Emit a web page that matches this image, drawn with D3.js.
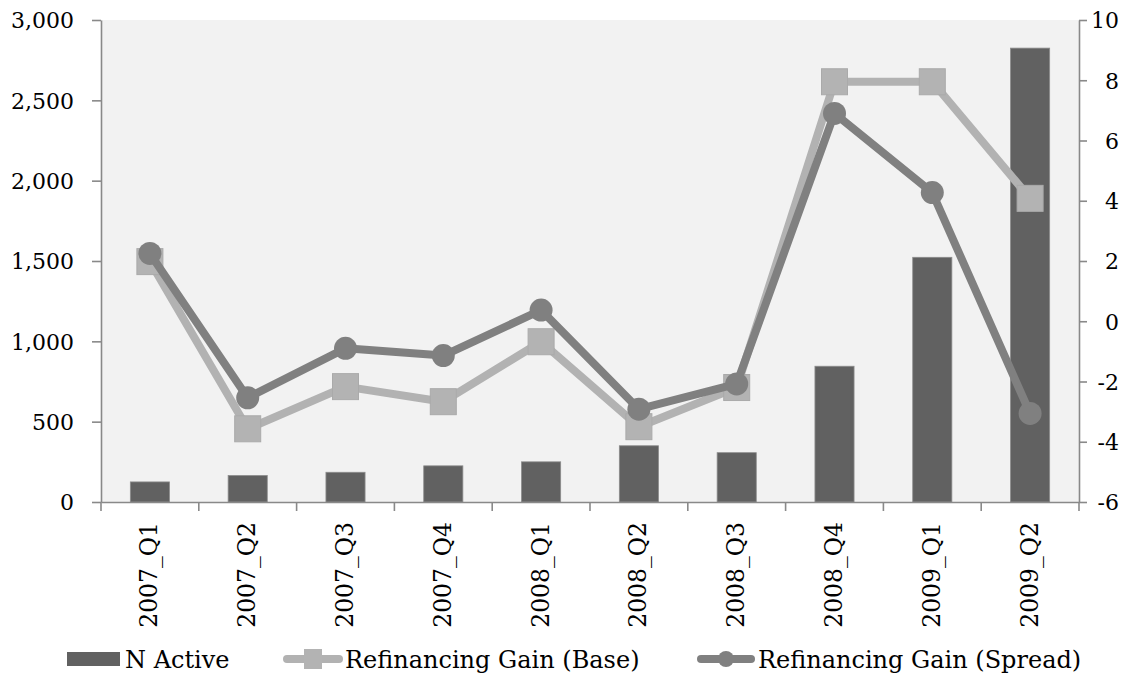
<!DOCTYPE html>
<html>
<head>
<meta charset="utf-8">
<script src="https://cdn.jsdelivr.net/npm/d3@7"></script>
<style>
  body { margin: 0; background: #fff; }
  .chart text { font-family: "DejaVu Serif", serif; font-size: 22px; fill: #000; }
  .chart .xlab text { font-size: 23.5px; }
  .chart .legend text { font-size: 24px; }
</style>
</head>
<body>
<div class="chart"></div>
<script>
// Data
const categories = ["2007_Q1", "2007_Q2", "2007_Q3", "2007_Q4", "2008_Q1",
                    "2008_Q2", "2008_Q3", "2008_Q4", "2009_Q1", "2009_Q2"];
const nActive = [125, 165, 185, 225, 250, 350, 307, 845, 1523, 2825];
const gainBase = [1.98, -3.57, -2.17, -2.67, -0.68, -3.5, -2.2, 7.95, 7.95, 4.08];
const gainSpread = [2.25, -2.54, -0.9, -1.14, 0.37, -2.92, -2.08, 6.9, 4.27, -3.06];
const leftTicks = [0, 500, 1000, 1500, 2000, 2500, 3000];
const rightTicks = [-6, -4, -2, 0, 2, 4, 6, 8, 10];

// Set up the chart
const margin = {top: 20, right: 62, bottom: 177, left: 101};
const width = 1141 - margin.left - margin.right;
const height = 679 - margin.top - margin.bottom;

const x = d3.scaleBand().domain(categories).range([0, width])
    .paddingInner(0.6).paddingOuter(0.3);
const yLeft = d3.scaleLinear().domain([0, 3000]).range([height, 0]);
const yRight = d3.scaleLinear().domain([-6, 10]).range([height, 0]);

const axisColor = "#898989";

const svg = d3.select(".chart").append("svg")
    .attr("width", 1141)
    .attr("height", 679);

const g = svg.append("g")
    .attr("transform", "translate(" + margin.left + "," + margin.top + ")");

// Plot background
g.append("rect")
    .attr("width", width)
    .attr("height", height)
    .attr("fill", "#f2f2f2");

// Bars
g.selectAll(".bar")
    .data(nActive)
    .join("rect")
    .attr("class", "bar")
    .attr("x", (d, i) => x(categories[i]))
    .attr("y", d => yLeft(d))
    .attr("width", x.bandwidth())
    .attr("height", d => height - yLeft(d))
    .attr("fill", "#616161")
    .attr("stroke", "#8c8c8c")
    .attr("stroke-width", 0.8);

// Left axis
const leftAxis = g.append("g")
    .call(d3.axisLeft(yLeft).tickValues(leftTicks).tickFormat(d3.format(",")).tickSize(9).tickSizeOuter(0));
leftAxis.selectAll("text").attr("x", -27).attr("dy", "0.36em");

// Right axis (plain hyphen for negatives, like the original)
const rightAxis = g.append("g")
    .attr("transform", "translate(" + width + ",0)")
    .call(d3.axisRight(yRight).tickValues(rightTicks).tickFormat(d => String(d)).tickSize(8).tickSizeOuter(0));
rightAxis.selectAll("text").attr("x", 40).attr("text-anchor", "end").attr("dy", "0.36em");

// Bottom axis: labels at band centres, ticks on band edges
const bottomAxis = g.append("g")
    .attr("class", "xlab")
    .attr("transform", "translate(0," + height + ")")
    .call(d3.axisBottom(x).tickSize(0).tickSizeOuter(0));
bottomAxis.selectAll("text")
    .attr("transform", "rotate(-90)")
    .attr("text-anchor", "end")
    .attr("x", -20)
    .attr("y", 0)
    .attr("dy", "0.32em");

const edges = categories.map(c => x(c) - (x.step() - x.bandwidth()) / 2);
edges.push(width);
bottomAxis.selectAll(".edge")
    .data(edges)
    .join("line")
    .attr("class", "edge")
    .attr("x1", d => d).attr("x2", d => d)
    .attr("y1", 0).attr("y2", 9);

[leftAxis, rightAxis, bottomAxis].forEach(a => {
  a.selectAll("path, line").attr("stroke", axisColor).attr("stroke-width", 1.6);
});

// Lines
const cx = i => x(categories[i]) + x.bandwidth() / 2;
const line = d3.line()
    .x((d, i) => cx(i))
    .y(d => yRight(d));

g.append("path")
    .datum(gainBase)
    .attr("fill", "none")
    .attr("stroke", "#b2b2b2")
    .attr("stroke-width", 8)
    .attr("stroke-linejoin", "round")
    .attr("d", line);

g.selectAll(".sq")
    .data(gainBase)
    .join("rect")
    .attr("class", "sq")
    .attr("x", (d, i) => cx(i) - 13)
    .attr("y", d => yRight(d) - 13)
    .attr("width", 26)
    .attr("height", 26)
    .attr("fill", "#b3b3b3")
    .attr("stroke", "#aaaaaa")
    .attr("stroke-width", 1);

g.append("path")
    .datum(gainSpread)
    .attr("fill", "none")
    .attr("stroke", "#808080")
    .attr("stroke-width", 8)
    .attr("stroke-linejoin", "round")
    .attr("d", line);

g.selectAll(".dot")
    .data(gainSpread)
    .join("circle")
    .attr("class", "dot")
    .attr("cx", (d, i) => cx(i))
    .attr("cy", d => yRight(d))
    .attr("r", 11.5)
    .attr("fill", "#808080");

// Legend
const legend = svg.append("g").attr("class", "legend").attr("transform", "translate(0,659)");

legend.append("rect")
    .attr("x", 67).attr("y", -7)
    .attr("width", 53).attr("height", 14)
    .attr("fill", "#616161");
legend.append("text").attr("x", 125).attr("dy", "0.36em").text("N Active");

legend.append("line")
    .attr("x1", 287).attr("x2", 339)
    .attr("stroke", "#b2b2b2").attr("stroke-width", 8).attr("stroke-linecap", "round");
legend.append("rect")
    .attr("x", 304).attr("y", -10)
    .attr("width", 18).attr("height", 20)
    .attr("fill", "#b3b3b3");
legend.append("text").attr("x", 345).attr("dy", "0.36em").text("Refinancing Gain (Base)");

legend.append("line")
    .attr("x1", 701).attr("x2", 751)
    .attr("stroke", "#808080").attr("stroke-width", 8).attr("stroke-linecap", "round");
legend.append("circle")
    .attr("cx", 726).attr("cy", 0).attr("r", 8)
    .attr("fill", "#808080");
legend.append("text").attr("x", 758).attr("dy", "0.36em").text("Refinancing Gain (Spread)");
</script>
</body>
</html>
